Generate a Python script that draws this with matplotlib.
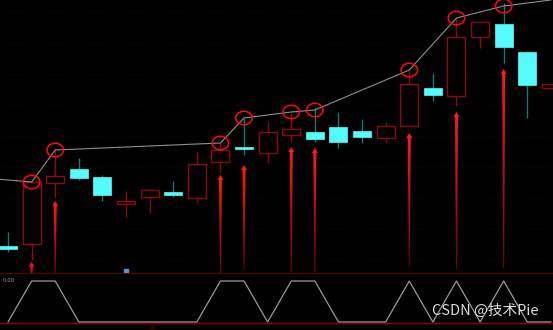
import numpy as np
import matplotlib
matplotlib.use('Agg')
import matplotlib.pyplot as plt
from matplotlib.patches import Rectangle, Ellipse, Polygon
from matplotlib.colors import LinearSegmentedColormap

# K线数据 (开, 高, 低, 收)
opens = [3.4, 3.6, 9.7, 11.1, 10.3, 7.6, 8.3, 8.8, 8.2, 11.8, 13.3, 12.7,
         14.5, 14.8, 15.3, 14.9, 14.2, 15.4, 19.2, 18.4, 24.3, 25.6, 22.8, 19.2]
highs = [4.8, 9.8, 13.2, 12.2, 10.5, 8.9, 9.0, 9.9, 12.8, 13.7, 16.2, 15.8,
         16.7, 17.2, 16.8, 16.1, 15.8, 21.0, 20.7, 26.2, 25.8, 27.7, 22.8, 19.6]
lows = [2.8, 2.0, 8.3, 10.0, 7.9, 6.3, 6.7, 8.3, 7.7, 10.8, 12.5, 11.7,
        13.8, 13.8, 13.2, 13.7, 13.7, 15.4, 17.9, 17.4, 23.2, 21.7, 16.2, 19.2]
closes = [3.1, 9.8, 10.4, 10.2, 8.5, 7.9, 9.0, 8.5, 11.6, 13.0, 13.1, 14.8,
          15.1, 14.1, 13.8, 14.3, 15.4, 19.6, 18.5, 24.3, 25.8, 23.3, 19.5, 19.6]

# 信号点
sig_idx = [1, 2, 9, 10, 12, 13, 17, 19, 21]
sig_val = [9.8, 13.0, 13.7, 16.2, 16.8, 17.0, 21.0, 26.2, 27.4]
arrow_top = [1.8, 7.9, 10.5, 11.5, 13.3, 13.2, 14.7, 16.8, 21.1]
arrow_bot = [0.2, 0.5, 0.7, 1.0, 0.8, 0.8, 1.3, 1.1, 1.2]

# 连线
line_x = [-1, 1, 2, 9, 10, 12, 13, 17, 19, 21, 23]
line_y = [10.2, 9.8, 13.0, 13.7, 16.2, 16.8, 17.0, 21.0, 26.2, 27.4, 28.0]

# 副图信号
signal = [0, 1, 1, 0, 0, 0, 0, 0, 0, 1, 1, 0, 1, 1, 0, 0, 0, 1, 0, 1, 0, 1, 0, 0]

up_col = '#8c0a0a'
dn_col = '#54fcfc'
dn_wick = '#127a7a'

fig = plt.figure(figsize=(5.53, 3.30), dpi=100, facecolor='black')
ax = fig.add_axes([0, 57 / 330, 1, 273 / 330])
ax2 = fig.add_axes([0, 0, 1, 57 / 330])
for a in (ax, ax2):
    a.set_facecolor('black')
    for s in a.spines.values():
        s.set_visible(False)
    a.tick_params(left=False, bottom=False, labelleft=False, labelbottom=False)

n = len(opens)
x = np.arange(n)
w = 0.76
for i in range(n):
    o, h, l, c = opens[i], highs[i], lows[i], closes[i]
    if c >= o:
        ax.vlines(i, c, h, color=up_col, lw=1, zorder=2)
        ax.vlines(i, l, o, color=up_col, lw=1, zorder=2)
        ax.add_patch(Rectangle((i - w / 2, o), w, max(c - o, 0.05), facecolor='black',
                               edgecolor=up_col, lw=1, zorder=3))
    else:
        ax.vlines(i, l, h, color=dn_wick, lw=1, zorder=2)
        ax.add_patch(Rectangle((i - w / 2, c), w, o - c, facecolor=dn_col,
                               edgecolor=dn_col, lw=0.5, zorder=3))

ax.plot(line_x, line_y, color='#8f8f8f', lw=0.8, zorder=4)

for i, v in zip(sig_idx, sig_val):
    ax.add_patch(Ellipse((i, v), 0.7, 1.35, facecolor='none', edgecolor='#ff0a0a', lw=1.1, zorder=5))

cmap = LinearSegmentedColormap.from_list('arr', ['#7a0000', '#ff1a1a'])
grad = np.linspace(1, 0, 100).reshape(-1, 1)
for i, t, b in zip(sig_idx, arrow_top, arrow_bot):
    hh = min(0.5, (t - b) * 0.3)
    pts = [(i, t), (i + 0.13, t - hh), (i + 0.065, t - hh), (i + 0.02, b),
           (i - 0.02, b), (i - 0.065, t - hh), (i - 0.13, t - hh)]
    poly = Polygon(pts, closed=True, facecolor='none', edgecolor='none')
    ax.add_patch(poly)
    im = ax.imshow(grad, extent=[i - 0.15, i + 0.15, b, t], cmap=cmap, vmin=0.0, vmax=1.0,
                   aspect='auto', zorder=6)
    im.set_clip_path(poly)

ax.set_xlim(-0.34, 23.09)
ax.set_ylim(0.7, 28.0)
ax.set_yticks(np.arange(2.0, 28, 3.1))
ax.grid(axis='y', color='#2c0000', lw=0.6, ls=(0, (1, 2)))
ax.plot([5], [0.9], marker='s', ms=3.5, color='#5b8fd0', zorder=6)

ax2.plot(x, signal, color='#9a9a9a', lw=0.9, zorder=3)
ax2.set_xlim(-0.34, 23.09)
ax2.set_ylim(-0.195, 1.195)
ax2.axhline(1.195, color='#800000', lw=1.2, zorder=2)
ax2.axhline(-0.02, color='#800000', lw=1.0, zorder=2)
ax2.text(0.004, 0.86, '0.00', transform=ax2.transAxes, fontsize=4, color='#9a9a9a', va='center')
ax2.text(0.27, 0.0, '|||', transform=ax2.transAxes, fontsize=4, color='#900000', va='bottom')

fig.text(432 / 553, 1 - 311 / 330, 'CSDN @技术Pie', fontsize=10.5, color='#dddddd', va='center',
         family=['Noto Sans CJK SC', 'DejaVu Sans'])

plt.savefig('out.png', dpi=100, facecolor='black')
plt.close()
